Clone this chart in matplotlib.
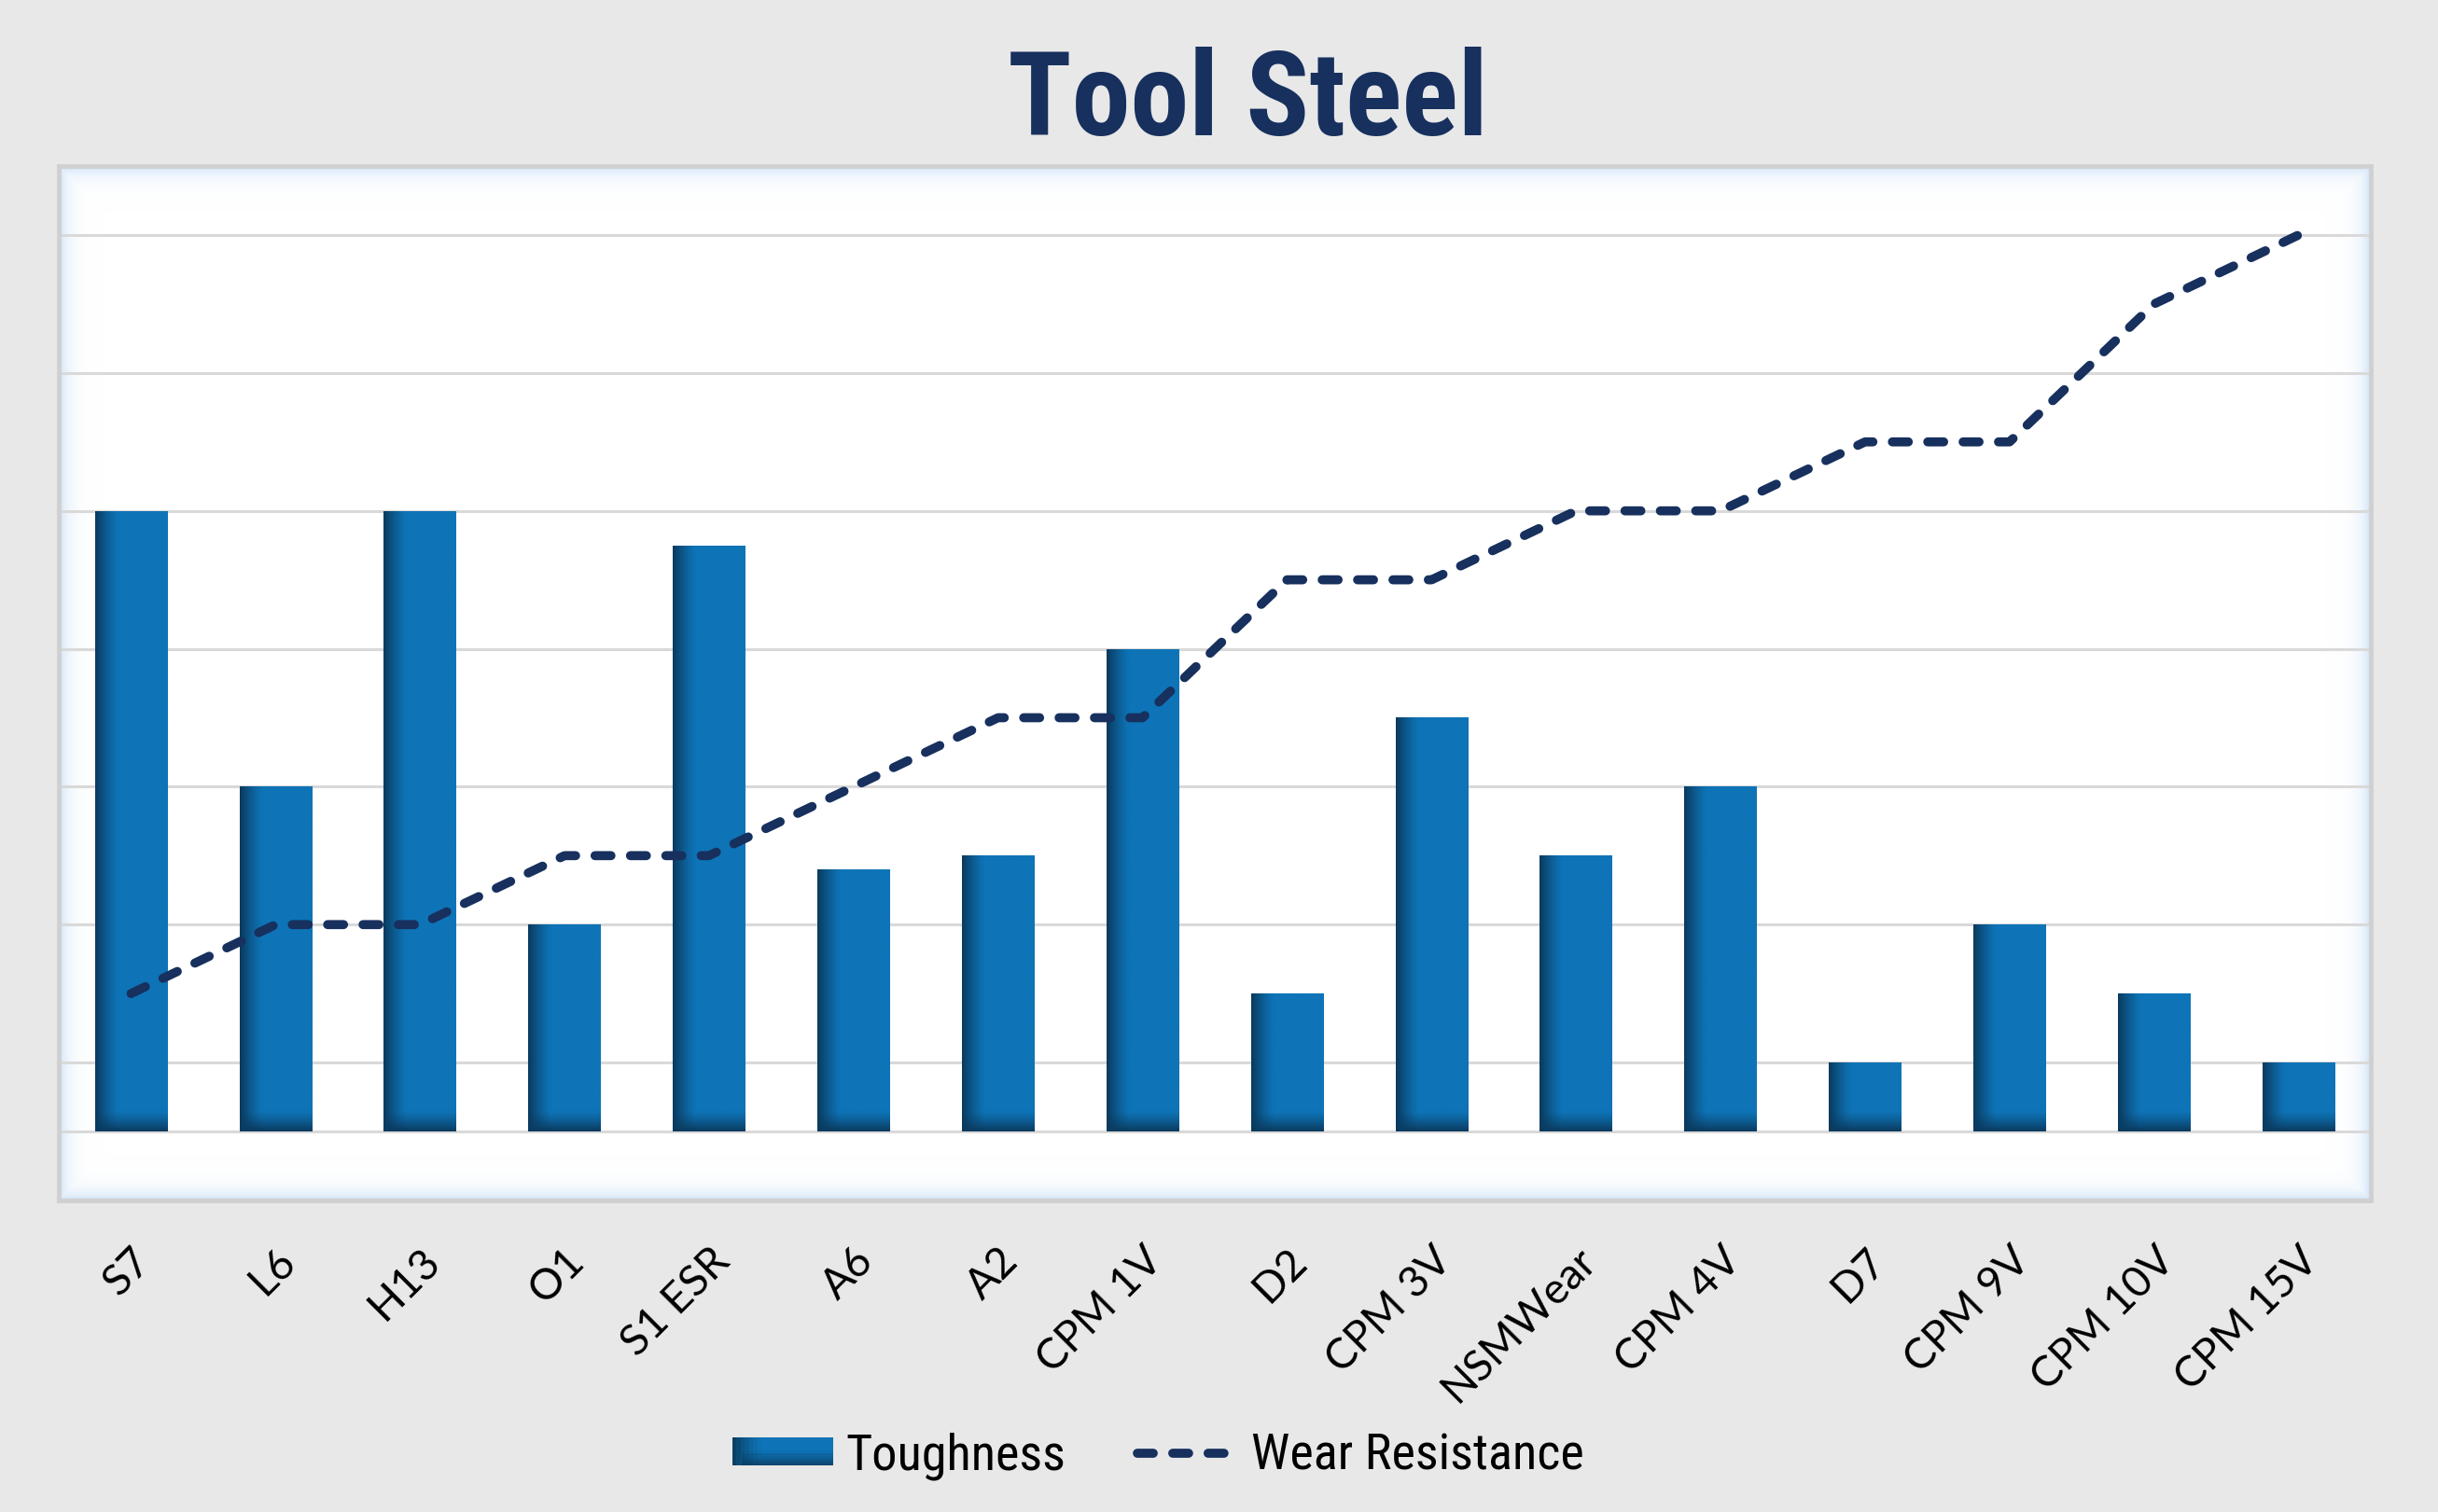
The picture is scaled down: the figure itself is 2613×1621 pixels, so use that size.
import numpy as np
import matplotlib
matplotlib.use("Agg")
import matplotlib.pyplot as plt
from matplotlib import font_manager as fm
from matplotlib.colors import to_rgb
from matplotlib.lines import Line2D
from matplotlib.patches import Patch, Rectangle
from matplotlib.legend_handler import HandlerBase

# ---------------- data ----------------
categories = ["S7", "L6", "H13", "O1", "S1 ESR", "A6", "A2", "CPM 1V", "D2",
              "CPM 3V", "NSMWear", "CPM 4V", "D7", "CPM 9V", "CPM 10V", "CPM 15V"]
toughness = [5, 3, 5, 2, 4.75, 2.4, 2.5, 4, 1.5, 3.5, 2.5, 3, 1, 2, 1.5, 1]
wear_resistance = [1.5, 2, 2, 2.5, 2.5, 3, 3.5, 3.5, 4.5, 4.5, 5, 5, 5.5, 5.5, 6.5, 7]
axis_cross = 0.5
y_ticks = [0.5, 1, 2, 3, 4, 5, 6, 7]
title = "Tool Steel"
series_names = ["Toughness", "Wear Resistance"]

# ---------------- style ----------------
BG = "#e8e8e8"
BAR = "#0e74b7"
BAR_DARK = "#0a3a5e"
NAVY = "#17305e"
GRID = "#d9d9d9"
BORDER = "#d0d0d0"
LABEL_FONT = ["Lato", "DejaVu Sans"]


def narrow_font(bold):
    """Pick an installed condensed/narrow font file."""
    prefs = ["Liberation Sans Narrow", "Roboto Condensed", "Open Sans Condensed",
             "Noto Sans Condensed", "DejaVu Sans Condensed", "Noto Sans", "DejaVu Sans"]
    best = None
    for f in fm.fontManager.ttflist:
        st = str(f.stretch)
        is_cond = ("Narrow" in f.name or "Condensed" in f.name or "Condensed" in f.fname
                   or "Narrow" in f.fname or st in ("condensed", "semi-condensed"))
        if not is_cond:
            continue
        w = f.weight if isinstance(f.weight, int) else (700 if "bold" in str(f.weight) else 400)
        if ("Italic" in f.fname) or f.style != "normal":
            continue
        want = 700 if bold else 400
        score = abs(w - want)
        pname = next((i for i, p in enumerate(prefs) if f.name.startswith(p.split(" Condensed")[0])), 99)
        key = (score, pname)
        if best is None or key < best[0]:
            best = (key, f.fname)
    if best is None:
        return fm.FontProperties(family="DejaVu Sans", weight="bold" if bold else "normal")
    return fm.FontProperties(fname=best[1])


c_main = np.array(to_rgb(BAR))
c_dark = np.array(to_rgb(BAR_DARK))


def shade(dl, db):
    dd = 1 - (1 - dl) * (1 - db)
    return c_main * (1 - dd) + c_dark * dd


class GradientPatchHandler(HandlerBase):
    """Legend key drawn as a bar with dark left edge and bottom."""
    def create_artists(self, legend, orig_handle, xdescent, ydescent, width, height,
                       fontsize, trans):
        arts = []
        n = 24
        x0, y0 = -xdescent, -ydescent
        for i in range(n):
            fx = (i + 0.5) / n
            dl = np.clip(1 - fx / 0.3, 0, 1) ** 1.3
            arts.append(Rectangle((x0 + width * i / n, y0), width / n * 1.05, height,
                                  facecolor=shade(dl, 0), edgecolor="none", transform=trans))
        m = 10
        for j in range(m):
            fy = (j + 0.5) / m
            a = (1 - fy) ** 1.3 * 0.9
            arts.append(Rectangle((x0 + width * 0.1, y0 + height * 0.55 * j / m), width * 0.9,
                                  height * 0.55 / m * 1.05, facecolor=c_dark, alpha=a,
                                  edgecolor="none", transform=trans))
        return arts


W, H = 2613, 1621
fig = plt.figure(figsize=(W / 100, H / 100), dpi=100, facecolor=BG)
left, right, top, bottom = 63, 2541, 178, 1287
ax = fig.add_axes([left / W, 1 - bottom / H, (right - left) / W, (bottom - top) / H])
ax.set_facecolor("white")

# inner blue glow of the plot area
gh, gw = bottom - top, right - left
yy, xx = np.mgrid[0:gh, 0:gw]
d = np.minimum(np.minimum(xx, gw - 1 - xx), np.minimum(yy, gh - 1 - yy)).astype(float)
glow = np.zeros((gh, gw, 4))
glow[..., :3] = to_rgb("#c4dcf5")
glow[..., 3] = 0.85 * np.exp(-d / 9.0)
ax.imshow(glow, extent=(0, 1, 0, 1), transform=ax.transAxes, aspect="auto",
          zorder=0.1, interpolation="bilinear")

x = np.arange(len(categories))
bars = ax.bar(x, np.array(toughness) - axis_cross, bottom=axis_cross, width=0.5,
              color=BAR, zorder=2, label=series_names[0])

# gradient shading inside each bar (dark left edge and bottom)
for b in bars:
    bx, by, bw, bh = b.get_x(), b.get_y(), b.get_width(), b.get_height()
    ny = max(int(bh * 150), 2)
    nx = 80
    fx = np.linspace(0, 1, nx)[None, :]
    py = np.linspace(0, bh * 147.3, ny)[::-1][:, None]  # px from bottom
    dl = np.clip(1 - fx / 0.32, 0, 1) ** 1.3
    db = np.clip(1 - py / 22.0, 0, 1) ** 1.3
    dd = 1 - (1 - dl) * (1 - db)
    img = c_main[None, None, :] * (1 - dd[..., None]) + c_dark[None, None, :] * dd[..., None]
    im = ax.imshow(img, extent=(bx, bx + bw, by, by + bh), aspect="auto",
                   zorder=2.1, interpolation="bilinear")
    im.set_clip_path(b)

LINE_STYLE = dict(color=NAVY, lw=7, ls=(0, (1.75, 2.15)), dash_capstyle="round")
ax.plot(x, wear_resistance, zorder=3, label=series_names[1], **LINE_STYLE)

ax.set_xlim(-0.5, 15.5)
ax.set_ylim(0, 7.5)
ax.set_yticks(y_ticks)
ax.tick_params(axis="y", length=0, labelleft=False)
ax.yaxis.grid(True, color=GRID, lw=2.2)
ax.set_axisbelow(True)
for gl in ax.get_ygridlines():
    gl.set_zorder(0.5)

ax.set_xticks(x, categories, rotation=45, ha="right", va="top",
              rotation_mode="anchor", fontsize=33, family=LABEL_FONT)
ax.tick_params(axis="x", length=0, pad=31)

for s in ax.spines.values():
    s.set_color(BORDER)
    s.set_linewidth(3.5)
    s.set_zorder(5)

fp_bold = narrow_font(True)
fp_reg = narrow_font(False)

renderer = fig.canvas.get_renderer()

fp_t = fp_bold.copy()
fp_t.set_size(90)
t = fig.text(1337 / W, 1 - 145 / H, title, ha="center", va="baseline",
             color=NAVY, fontproperties=fp_t)
tw = t.get_window_extent(renderer).width
fp_t.set_size(90 * 515 / tw)
t.set_fontproperties(fp_t)

# legend font sized so "Toughness" spans ~236 px
fp_l = fp_reg.copy()
fp_l.set_size(40)
probe = fig.text(0, 0, series_names[0], fontproperties=fp_l)
lw_ = probe.get_window_extent(renderer).width
probe.remove()
fp_l.set_size(40 * 236 / lw_)

handles = [Patch(facecolor=BAR, edgecolor="none"),
           Line2D([], [], **LINE_STYLE)]
fig.legend(handles, series_names, loc="center", bbox_to_anchor=(1241 / W, 1 - 1561 / H),
           ncol=2, frameon=False, prop=fp_l,
           handler_map={Patch: GradientPatchHandler()},
           handlelength=2.0, handleheight=0.5, handletextpad=0.25, columnspacing=1.4)

fig.savefig("out.png", dpi=100, facecolor=BG)
